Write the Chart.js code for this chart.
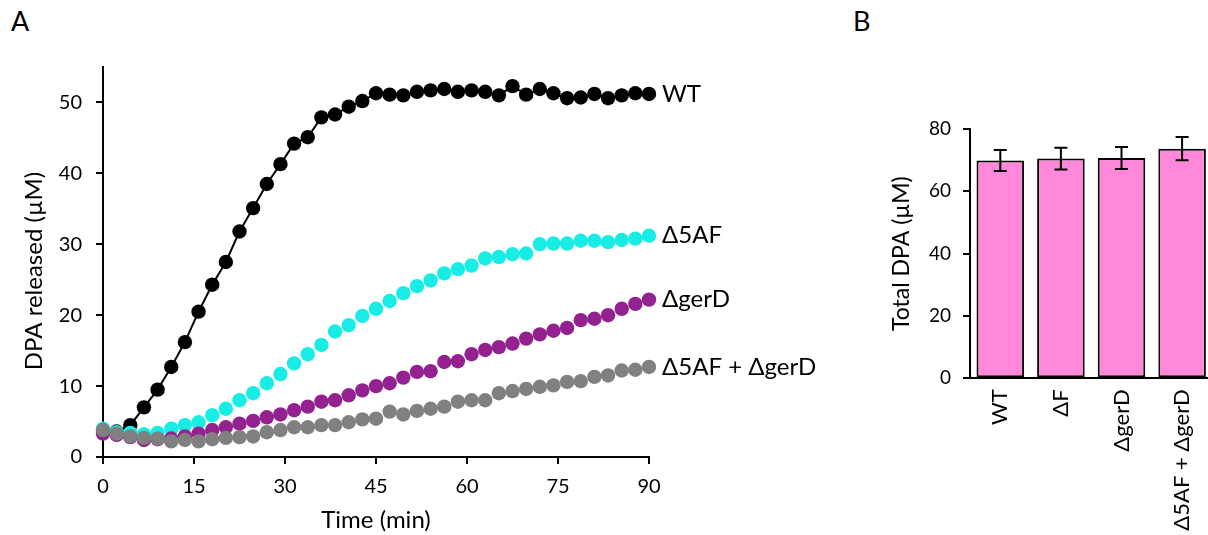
<!DOCTYPE html>
<html>
  <head>
    <meta charset="utf-8">
    <script src="https://cdn.jsdelivr.net/npm/chart.js@4"></script>
    <style>
      html, body { margin: 0; padding: 0; background: #fff; overflow: hidden; width: 1208px; height: 535px; }
      canvas { position: absolute; top: 0; }
      .panel { position: absolute; font: 27px Lato; line-height: 27px; color: #000; }
    </style>
  </head>

  <body>
    <div class="panel" style="left: 11px; top: 7px">A</div>
    <div class="panel" style="left: 853px; top: 7px">B</div>
    <canvas id="release" width="860" height="535" style="left: 0"></canvas>
    <canvas id="total" width="360" height="535" style="left: 860px"></canvas>
    <script>
      // sampling times (min)
      const timeMin = [
        0, 2.25, 4.5, 6.75, 9, 11.25, 13.5, 15.75, 18, 20.25,
        22.5, 24.75, 27, 29.25, 31.5, 33.75, 36, 38.25, 40.5, 42.75,
        45, 47.25, 49.5, 51.75, 54, 56.25, 58.5, 60.75, 63, 65.25,
        67.5, 69.75, 72, 74.25, 76.5, 78.75, 81, 83.25, 85.5, 87.75, 90,
      ];

      // DPA released (µM)
      const wt = [
        3.8, 3.6, 4.5, 7.0, 9.5, 12.7, 16.2, 20.5, 24.3, 27.5,
        31.8, 35.1, 38.5, 41.3, 44.2, 45.1, 47.9, 48.3, 49.4, 50.2,
        51.3, 51.1, 51.0, 51.5, 51.7, 51.9, 51.5, 51.7, 51.5, 51.0,
        52.3, 51.1, 51.9, 51.3, 50.6, 50.7, 51.2, 50.6, 51.0, 51.3, 51.2,
      ];
      const d5af = [
        4.0, 3.5, 3.4, 3.2, 3.4, 4.0, 4.5, 4.9, 5.9, 6.8,
        8.0, 9.0, 10.4, 11.7, 13.2, 14.5, 15.8, 17.7, 18.6, 19.9,
        20.9, 22.0, 23.1, 24.1, 24.9, 25.9, 26.5, 27.0, 28.0, 28.2,
        28.6, 28.7, 30.0, 30.1, 30.1, 30.5, 30.5, 30.3, 30.6, 30.8, 31.2,
      ];
      const dgerD = [
        3.3, 3.1, 2.8, 2.4, 2.5, 2.6, 2.9, 3.3, 3.8, 4.2,
        4.7, 5.1, 5.6, 6.0, 6.6, 7.1, 7.8, 8.0, 8.7, 9.4,
        10.0, 10.4, 11.2, 12.0, 12.1, 13.4, 13.5, 14.5, 15.1, 15.5,
        16.0, 16.7, 17.3, 17.8, 18.2, 19.3, 19.5, 20.0, 20.9, 21.6, 22.2,
      ];
      const d5afGerD = [
        3.8, 3.3, 2.9, 2.7, 2.6, 2.2, 2.4, 2.2, 2.5, 2.7,
        2.8, 2.9, 3.5, 3.8, 4.2, 4.2, 4.5, 4.5, 4.9, 5.3,
        5.4, 6.4, 6.0, 6.5, 6.8, 7.1, 7.8, 8.0, 8.0, 9.0,
        9.3, 9.6, 9.9, 10.1, 10.6, 10.7, 11.3, 11.5, 12.2, 12.3, 12.7,
      ];

      // total DPA per strain
      const strains = ['WT', 'ΔF', 'ΔgerD', 'Δ5AF + ΔgerD'];
      const totalDpa = [69.9, 70.5, 70.7, 73.7];
      const totalErr = [3.4, 3.5, 3.5, 3.7];

      const xyPoints = (ys) => ys.map((y, i) => ({ x: timeMin[i], y: y }));

      // series names right of the last points, plus the y axis title
      // (sits a little below the plot centre)
      const endLabels = {
        id: 'endLabels',
        afterDatasetsDraw(chart) {
          const { ctx, chartArea } = chart;
          const xs = chart.scales.x;
          const ys = chart.scales.y;
          ctx.save();
          ctx.font = '24px Lato';
          ctx.fillStyle = '#000';
          ctx.textBaseline = 'middle';
          chart.data.datasets.forEach((ds) => {
            const last = ds.data[ds.data.length - 1];
            ctx.fillText(ds.label, xs.getPixelForValue(last.x) + 13, ys.getPixelForValue(last.y));
          });
          ctx.translate(34, (chartArea.top + chartArea.bottom) / 2 + 9);
          ctx.rotate(-Math.PI / 2);
          ctx.textAlign = 'center';
          ctx.fillText('DPA released (µM)', 0, 0);
          ctx.restore();
        },
      };

      // +/- error whiskers on the bars
      const errorBars = {
        id: 'errorBars',
        afterDatasetsDraw(chart) {
          const { ctx } = chart;
          const ys = chart.scales.y;
          const meta = chart.getDatasetMeta(0);
          ctx.save();
          ctx.strokeStyle = '#000';
          ctx.lineWidth = 2;
          meta.data.forEach((bar, i) => {
            const hi = ys.getPixelForValue(totalDpa[i] + totalErr[i]);
            const lo = ys.getPixelForValue(totalDpa[i] - totalErr[i]);
            ctx.beginPath();
            ctx.moveTo(bar.x, hi);
            ctx.lineTo(bar.x, lo);
            ctx.moveTo(bar.x - 6.5, hi);
            ctx.lineTo(bar.x + 6.5, hi);
            ctx.moveTo(bar.x - 6.5, lo);
            ctx.lineTo(bar.x + 6.5, lo);
            ctx.stroke();
          });
          ctx.restore();
        },
      };

      function draw() {
        Chart.defaults.font.family = 'Lato';
        Chart.defaults.color = '#000';

        const axisLine = { color: '#000', width: 2 };
        const tickMarks = { drawOnChartArea: false, drawTicks: true, tickLength: 7, color: '#000', lineWidth: 2 };

        const dot = (label, color, values, order, line) => ({
          label: label,
          data: xyPoints(values),
          order: order,
          showLine: line,
          borderColor: color,
          borderWidth: 2,
          backgroundColor: color,
          pointBackgroundColor: color,
          pointBorderWidth: 0,
          pointRadius: 7.2,
          clip: false,
        });

        new Chart(document.getElementById('release').getContext('2d'), {
          type: 'scatter',
          data: {
            datasets: [
              dot('WT', '#000000', wt, 4, true),
              dot('Δ5AF', '#17EDE4', d5af, 3, false),
              dot('ΔgerD', '#93218F', dgerD, 2, false),
              dot('Δ5AF + ΔgerD', '#808080', d5afGerD, 1, false),
            ],
          },
          options: {
            responsive: false,
            animation: false,
            layout: { padding: { top: 67, right: 211, bottom: 0, left: 0 } },
            plugins: {
              legend: { display: false },
              tooltip: { enabled: false },
            },
            scales: {
              x: {
                type: 'linear',
                min: 0,
                max: 90,
                ticks: { stepSize: 15, font: { size: 20 }, padding: 11 },
                grid: tickMarks,
                border: axisLine,
                title: { display: true, text: 'Time (min)', font: { size: 24 }, padding: { top: 0, bottom: 0 } },
                afterFit: (s) => { s.height = 78; },
              },
              y: {
                min: 0,
                max: 55,
                ticks: { stepSize: 10, includeBounds: false, font: { size: 20 }, padding: 14 },
                grid: tickMarks,
                border: axisLine,
                afterFit: (s) => { s.width = 103; },
              },
            },
          },
          plugins: [endLabels],
        });

        new Chart(document.getElementById('total').getContext('2d'), {
          type: 'bar',
          data: {
            labels: strains,
            datasets: [
              {
                data: totalDpa,
                backgroundColor: '#FF88DA',
                borderColor: '#000',
                borderWidth: 2,
                borderSkipped: false,
                barPercentage: 0.785,
                categoryPercentage: 1,
              },
            ],
          },
          options: {
            responsive: false,
            animation: false,
            layout: { padding: { top: 129, right: 7.6, bottom: 0, left: 0 } },
            plugins: {
              legend: { display: false },
              tooltip: { enabled: false },
            },
            scales: {
              x: {
                ticks: { minRotation: 90, maxRotation: 90, autoSkip: false, font: { size: 22 }, padding: 3 },
                grid: { display: false },
                border: axisLine,
                afterFit: (s) => { s.height = 156.7; },
              },
              y: {
                min: 0,
                max: 80,
                ticks: { stepSize: 20, font: { size: 19 }, padding: 12 },
                grid: tickMarks,
                border: axisLine,
                title: { display: true, text: 'Total DPA (µM)', font: { size: 23 }, padding: { top: 28, bottom: 0 } },
                afterFit: (s) => { s.width = 110; },
              },
            },
          },
          plugins: [errorBars],
        });
      }

      document.fonts.load('20px Lato').then(draw, draw);
    </script>
  </body>
</html>
